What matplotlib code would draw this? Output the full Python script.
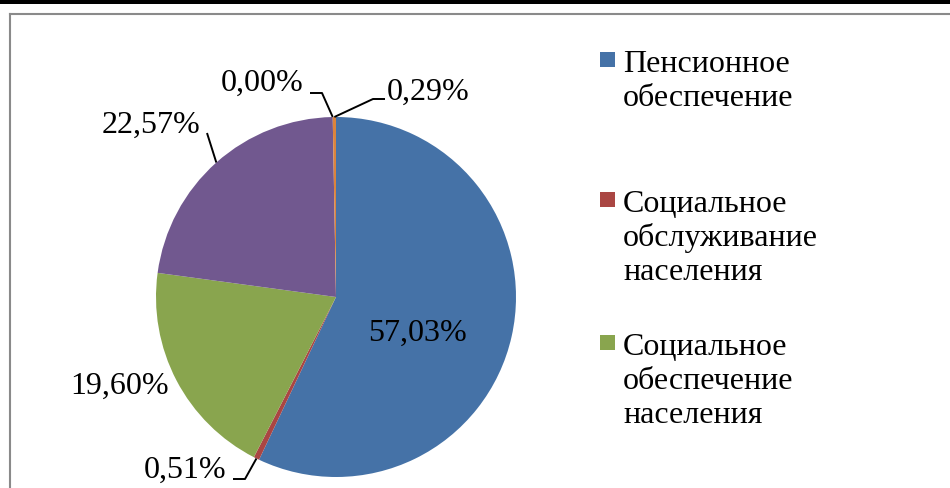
import numpy as np
import matplotlib.pyplot as plt
from matplotlib.patches import Rectangle

# Structure of spending (shares, %), clockwise from the top
shares = [57.03, 0.51, 19.60, 22.57, 0.00, 0.29]
colors = ['#4572A7', '#AA4643', '#89A54E', '#71588F', '#4198AF', '#DB843D']

# Only the first three legend entries are visible in the picture
legend_labels = ['Пенсионное\nобеспечение',
                 'Социальное\nобслуживание\nнаселения',
                 'Социальное\nобеспечение\nнаселения']

W, H = 950, 488
FONT = 'Liberation Serif'
FS = 23


def py(y):
    # pixel row (from top) -> data y
    return H - y


fig = plt.figure(figsize=(W / 100, H / 100), dpi=100)
ax = fig.add_axes([0, 0, 1, 1])

cx, cy, r = 336, py(297), 180
wedges, _ = ax.pie(shares, colors=colors, startangle=90, counterclock=False,
                   center=(cx, cy), radius=r, wedgeprops=dict(linewidth=0))
ax.set_xlim(0, W)
ax.set_ylim(0, H)
ax.axis('off')


def edge_point(i):
    w = wedges[i]
    a = np.deg2rad((w.theta1 + w.theta2) / 2)
    return cx + r * np.cos(a), cy + r * np.sin(a)


def fmt(v):
    return f'{v:.2f}'.replace('.', ',') + '%'


# label centres (pixels from top-left) and leader elbows
label_pos = [(417, 333), (185, 470), (120, 386), (151, 125), (262, 83), (428, 92)]
leaders = {
    1: [(233, 479), (245, 479)],
    3: [(207, 133)],
    4: [(310, 93), (322, 93)],
    5: [(385, 99), (373, 99)],
}

for i, v in enumerate(shares):
    x, y = label_pos[i]
    ax.text(x, py(y), fmt(v), fontsize=FS, family=FONT, ha='center', va='center')
    if i in leaders:
        ex, ey = edge_point(i)
        xs = [p[0] for p in leaders[i]] + [ex]
        ys = [py(p[1]) for p in leaders[i]] + [ey]
        ax.plot(xs, ys, color='black', lw=1.4, solid_capstyle='butt')

# legend drawn by hand: square marker aligned with the first line
legend_top = [72, 212, 355]
line_step = 34
for lab, col, base in zip(legend_labels, colors, legend_top):
    ax.add_patch(Rectangle((600, py(base - 13) - 7.5), 15, 15, color=col, lw=0))
    for k, line in enumerate(lab.split('\n')):
        ax.text(623, py(base + k * line_step), line, fontsize=FS, family=FONT,
                ha='left', va='baseline')

# chart frame and page rule
ax.plot([9.5, 9.5], [0, py(13.5)], color='#8a8a8a', lw=1.5)
ax.plot([9.5, W], [py(13.5), py(13.5)], color='#8a8a8a', lw=1.5)
ax.add_patch(Rectangle((0, H - 3.5), W, 3.5, color='black', lw=0))

fig.savefig('out.png', dpi=100)
